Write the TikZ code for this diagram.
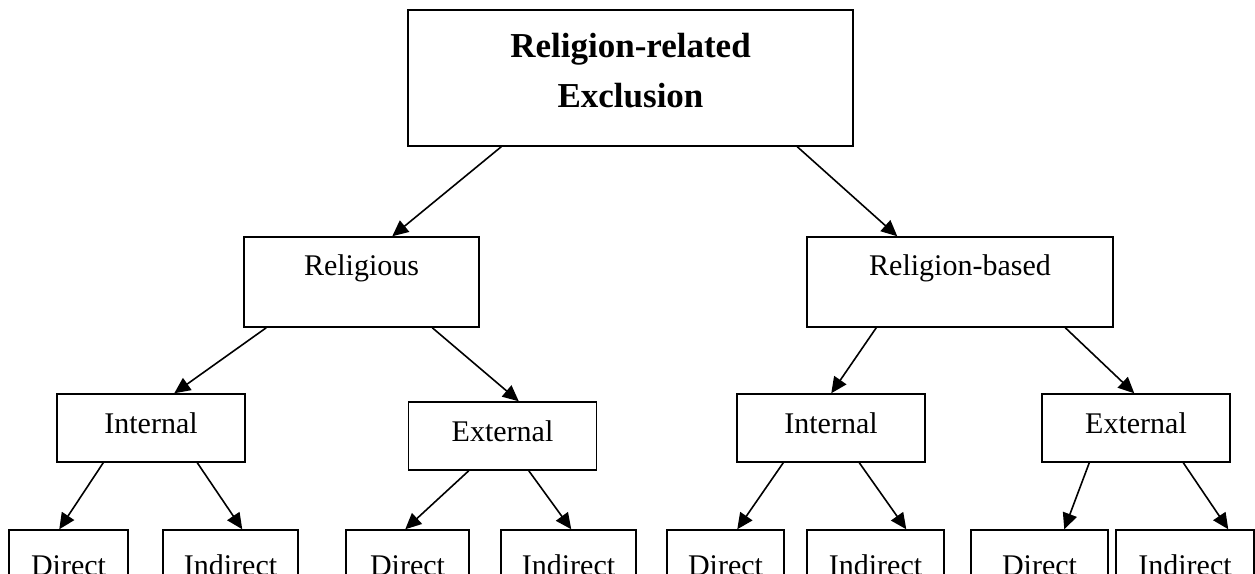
\documentclass[tikz,border=0pt]{standalone}
\usepackage{fontspec}
\setmainfont{Liberation Serif}
\usepackage{tikz}
\usetikzlibrary{arrows.meta,calc}

\begin{document}
\begin{tikzpicture}[
  x=0.75pt, y=-0.75pt,
  box/.style={
    draw, line width=1.1pt, inner xsep=0pt, inner ysep=0pt,
    font=\fontsize{22.5}{27}\selectfont, align=center
  },
  head/.style={
    box, minimum width=333.75pt, minimum height=102pt,
    font=\fontsize{26.25}{37.5}\selectfont\bfseries, text depth=12pt
  },
  mid/.style={box, minimum height=67.5pt, text height=28.5pt, text depth=39pt},
  leaf/.style={box, minimum width=141pt, minimum height=51pt,
    text height=29.25pt, text depth=21.75pt},
  kind/.style={box, minimum height=51pt, text height=33.75pt, text depth=17.25pt},
  arr/.style={-{Triangle[length=12pt,width=11pt]}, line width=1.2pt},
]
\useasboundingbox (0,0) rectangle (1255,574);
\clip (0,0) rectangle (1255,574);

\node[head] (root) at (630.5,78) {Religion-related\\Exclusion};
\node[mid, minimum width=176.25pt] (rel)   at (361.5,282) {Religious};
\node[mid, minimum width=229.5pt]  (based) at (960,282)   {Religion-based};

\node[leaf] (intA) at (151,428)    {Internal};
\node[leaf] (extA) at (502.5,436)  {External};
\node[leaf] (intB) at (831,428)    {Internal};
\node[leaf] (extB) at (1136,428)   {External};

\node[kind, minimum width=89.25pt]  (dirA)  at (68.5,564)   {Direct};
\node[kind, minimum width=101.25pt] (indA)  at (230.5,564)  {Indirect};
\node[kind, minimum width=92.25pt]  (dirB)  at (407.5,564)  {Direct};
\node[kind, minimum width=101.25pt] (indB)  at (568.5,564)  {Indirect};
\node[kind, minimum width=87.75pt]  (dirC)  at (725.5,564)  {Direct};
\node[kind, minimum width=102.75pt] (indC)  at (875.5,564)  {Indirect};
\node[kind, minimum width=102.75pt] (dirD)  at (1039.5,564) {Direct};
\node[kind, minimum width=103.5pt]  (indD)  at (1185,564)   {Indirect};

\draw[arr] ($(root.south west)+(94,0)$)  -- ($(rel.north west)+(149,0)$);
\draw[arr] ($(root.south west)+(390,0)$) -- ($(based.north west)+(91,0)$);
\draw[arr] ($(rel.south west)+(23,0)$)   -- ($(intA.north west)+(118,0)$);
\draw[arr] ($(rel.south west)+(189,0)$)  -- ($(extA.north west)+(111,0)$);
\draw[arr] ($(based.south west)+(70,0)$) -- ($(intB.north west)+(95,0)$);
\draw[arr] ($(based.south west)+(259,0)$) -- ($(extB.north west)+(93,0)$);

\draw[arr] ($(intA.south west)+(47,0)$)  -- ($(dirA.north west)+(51,0)$);
\draw[arr] ($(intA.south west)+(141,0)$) -- ($(indA.north west)+(80,0)$);
\draw[arr] ($(extA.south west)+(61,0)$)  -- ($(dirB.north west)+(60,0)$);
\draw[arr] ($(extA.south west)+(121,0)$) -- ($(indB.north west)+(71,0)$);
\draw[arr] ($(intB.south west)+(47,0)$)  -- ($(dirC.north west)+(71,0)$);
\draw[arr] ($(intB.south west)+(123,0)$) -- ($(indC.north west)+(100,0)$);
\draw[arr] ($(extB.south west)+(48,0)$)  -- ($(dirD.north west)+(94,0)$);
\draw[arr] ($(extB.south west)+(142,0)$) -- ($(indD.north west)+(113,0)$);
\end{tikzpicture}
\end{document}
